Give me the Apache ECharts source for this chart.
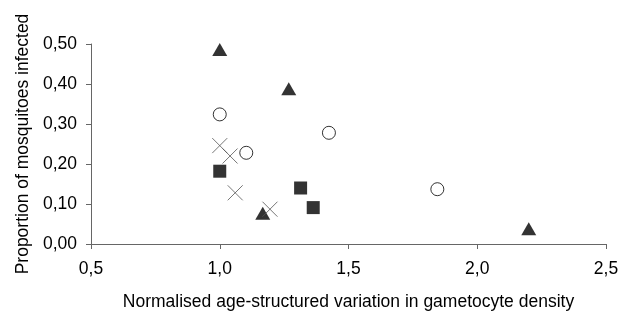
<!DOCTYPE html>
<html>
<head>
<meta charset="utf-8">
<script src="https://cdn.jsdelivr.net/npm/echarts@6/dist/echarts.min.js"></script>
<style>
  html, body { margin: 0; padding: 0; background: #fff; }
  #chart { width: 628px; height: 316px; }
</style>
</head>
<body>
<div id="chart"></div>
<script>
// data: [x, y]
const triangles = [[1.0, 0.486], [1.268, 0.388], [1.167, 0.077], [2.2, 0.038]];
const circles = [[1.0, 0.324], [1.103, 0.228], [1.424, 0.278], [1.845, 0.137]];
const squares = [[1.0, 0.182], [1.314, 0.140], [1.363, 0.091]];
const crosses = [[1.0, 0.246], [1.04, 0.22], [1.06, 0.128], [1.195, 0.087]];

const xTicks = [0.5, 1.0, 1.5, 2.0, 2.5];
const yTicks = [0, 0.1, 0.2, 0.3, 0.4, 0.5];

const font = "Liberation Sans, Arial, sans-serif";
const axisGrey = "#666";
const fs = 17.5;

const chart = echarts.init(document.getElementById("chart"));

const option = {
  animation: false,
  backgroundColor: "#fff",
  grid: { left: 91, right: 22, top: 44, bottom: 68, containLabel: false },
  xAxis: {
    type: "value",
    min: xTicks[0],
    max: xTicks[xTicks.length - 1],
    interval: 0.5,
    name: "Normalised age-structured variation in gametocyte density",
    nameLocation: "middle",
    nameGap: 49,
    nameTextStyle: { color: "#000", fontSize: fs, fontFamily: font },
    axisLine: { show: true, lineStyle: { color: axisGrey, width: 1 } },
    axisTick: { show: true, length: 5, lineStyle: { color: axisGrey } },
    axisLabel: {
      color: "#000",
      fontSize: fs,
      fontFamily: font,
      margin: 16,
      formatter: (v) => v.toFixed(1).replace(".", ","),
    },
    splitLine: { show: false },
  },
  yAxis: {
    type: "value",
    min: yTicks[0],
    max: yTicks[yTicks.length - 1],
    interval: 0.1,
    name: "Proportion of mosquitoes infected",
    nameLocation: "middle",
    nameGap: 58,
    nameTextStyle: { color: "#000", fontSize: fs, fontFamily: font },
    axisLine: { show: true, lineStyle: { color: axisGrey, width: 1 } },
    axisTick: { show: true, length: 5, lineStyle: { color: axisGrey } },
    axisLabel: {
      color: "#000",
      fontSize: fs,
      fontFamily: font,
      margin: 14,
      formatter: (v) => v.toFixed(2).replace(".", ","),
    },
    splitLine: { show: false },
  },
  series: [
    {
      type: "scatter",
      data: triangles,
      symbol: "triangle",
      symbolSize: [15, 13],
      itemStyle: { color: "#000" },
    },
    {
      type: "scatter",
      data: circles,
      symbol: "circle",
      symbolSize: 13,
      itemStyle: { color: "#fff", borderColor: "#000", borderWidth: 1 },
    },
    {
      type: "scatter",
      data: squares,
      symbol: "rect",
      symbolSize: 13,
      itemStyle: { color: "#000" },
    },
    {
      type: "scatter",
      data: crosses,
      symbol: "path://M0,0L10,10M10,0L0,10",
      symbolSize: 15,
      itemStyle: { color: "none", borderColor: "#555", borderWidth: 1 },
    },
  ],
};

chart.setOption(option);
</script>
</body>
</html>
